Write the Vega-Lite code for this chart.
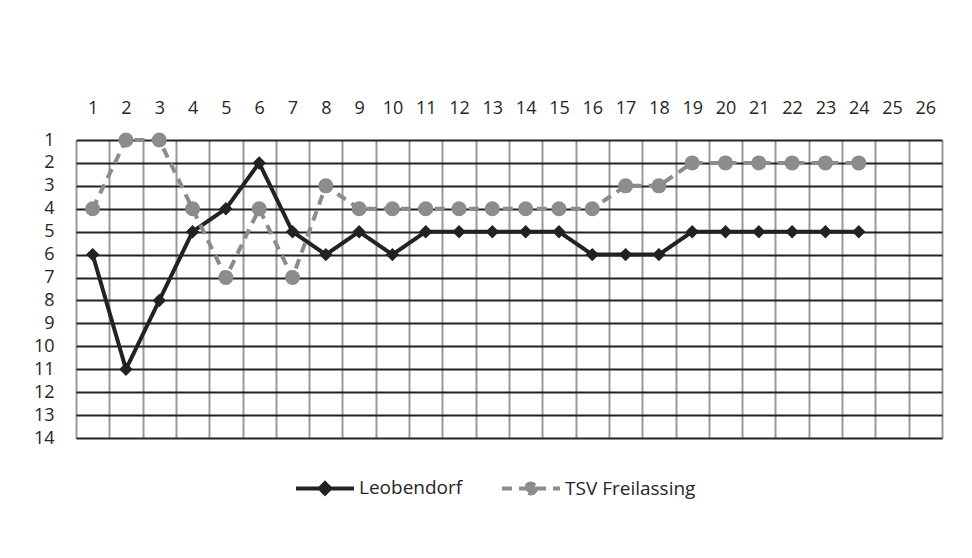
{
  "$schema": "https://vega.github.io/schema/vega-lite/v6.json",
  "width": 866,
  "height": 298,
  "autosize": {"type": "none"},
  "padding": {"left": 76, "top": 140, "right": 30, "bottom": 120},
  "background": "white",
  "config": {
    "view": {"stroke": null},
    "font": "Open Sans",
    "axis": {"labelFont": "Open Sans", "labelColor": "#262626", "labelFontSize": 18}
  },
  "data": {
    "values": [
      {"round": 1, "team": "Leobendorf", "rank": 6},
      {"round": 2, "team": "Leobendorf", "rank": 11},
      {"round": 3, "team": "Leobendorf", "rank": 8},
      {"round": 4, "team": "Leobendorf", "rank": 5},
      {"round": 5, "team": "Leobendorf", "rank": 4},
      {"round": 6, "team": "Leobendorf", "rank": 2},
      {"round": 7, "team": "Leobendorf", "rank": 5},
      {"round": 8, "team": "Leobendorf", "rank": 6},
      {"round": 9, "team": "Leobendorf", "rank": 5},
      {"round": 10, "team": "Leobendorf", "rank": 6},
      {"round": 11, "team": "Leobendorf", "rank": 5},
      {"round": 12, "team": "Leobendorf", "rank": 5},
      {"round": 13, "team": "Leobendorf", "rank": 5},
      {"round": 14, "team": "Leobendorf", "rank": 5},
      {"round": 15, "team": "Leobendorf", "rank": 5},
      {"round": 16, "team": "Leobendorf", "rank": 6},
      {"round": 17, "team": "Leobendorf", "rank": 6},
      {"round": 18, "team": "Leobendorf", "rank": 6},
      {"round": 19, "team": "Leobendorf", "rank": 5},
      {"round": 20, "team": "Leobendorf", "rank": 5},
      {"round": 21, "team": "Leobendorf", "rank": 5},
      {"round": 22, "team": "Leobendorf", "rank": 5},
      {"round": 23, "team": "Leobendorf", "rank": 5},
      {"round": 24, "team": "Leobendorf", "rank": 5},
      {"round": 1, "team": "TSV Freilassing", "rank": 4},
      {"round": 2, "team": "TSV Freilassing", "rank": 1},
      {"round": 3, "team": "TSV Freilassing", "rank": 1},
      {"round": 4, "team": "TSV Freilassing", "rank": 4},
      {"round": 5, "team": "TSV Freilassing", "rank": 7},
      {"round": 6, "team": "TSV Freilassing", "rank": 4},
      {"round": 7, "team": "TSV Freilassing", "rank": 7},
      {"round": 8, "team": "TSV Freilassing", "rank": 3},
      {"round": 9, "team": "TSV Freilassing", "rank": 4},
      {"round": 10, "team": "TSV Freilassing", "rank": 4},
      {"round": 11, "team": "TSV Freilassing", "rank": 4},
      {"round": 12, "team": "TSV Freilassing", "rank": 4},
      {"round": 13, "team": "TSV Freilassing", "rank": 4},
      {"round": 14, "team": "TSV Freilassing", "rank": 4},
      {"round": 15, "team": "TSV Freilassing", "rank": 4},
      {"round": 16, "team": "TSV Freilassing", "rank": 4},
      {"round": 17, "team": "TSV Freilassing", "rank": 3},
      {"round": 18, "team": "TSV Freilassing", "rank": 3},
      {"round": 19, "team": "TSV Freilassing", "rank": 2},
      {"round": 20, "team": "TSV Freilassing", "rank": 2},
      {"round": 21, "team": "TSV Freilassing", "rank": 2},
      {"round": 22, "team": "TSV Freilassing", "rank": 2},
      {"round": 23, "team": "TSV Freilassing", "rank": 2},
      {"round": 24, "team": "TSV Freilassing", "rank": 2}
    ]
  },
  "encoding": {
    "x": {
      "field": "round",
      "type": "ordinal",
      "title": null,
      "scale": {"type": "band", "domain": [1,2,3,4,5,6,7,8,9,10,11,12,13,14,15,16,17,18,19,20,21,22,23,24,25,26], "paddingInner": 0, "paddingOuter": 0},
      "axis": {
        "orient": "top",
        "labelAngle": 0,
        "ticks": false,
        "domain": false,
        "grid": true,
        "tickBand": "extent",
        "gridColor": "#999999",
        "gridWidth": 2,
        "labelPadding": 23,
        "zindex": 0
      }
    },
    "y": {
      "field": "rank",
      "type": "quantitative",
      "title": null,
      "scale": {"domain": [1, 14], "reverse": true, "nice": false, "zero": false},
      "axis": {
        "values": [1,2,3,4,5,6,7,8,9,10,11,12,13,14],
        "ticks": false,
        "domain": false,
        "grid": true,
        "gridColor": "#222222",
        "gridWidth": 2,
        "labelPadding": 22,
        "zindex": 0
      }
    }
  },
  "layer": [
    {
      "mark": {"type": "line", "strokeWidth": 4},
      "encoding": {
        "color": {
          "field": "team", "type": "nominal",
          "scale": {"domain": ["Leobendorf", "TSV Freilassing"], "range": ["#222222", "#8c8c8c"]},
          "legend": {
            "orient": "none", "legendX": 218, "legendY": 317, "direction": "horizontal", "title": null,
            "symbolSize": 3364, "symbolStrokeWidth": 4, "labelFontSize": 19, "labelFont": "Open Sans",
            "labelColor": "#262626", "labelOffset": 3, "columnPadding": 31,
            "encoding": {"symbols": {"fill": {"condition": {"test": "datum.value === 'Leobendorf'", "value": "#222222"}, "value": "#8c8c8c"}}}
          }
        },
        "strokeDash": {
          "field": "team", "type": "nominal",
          "scale": {"domain": ["Leobendorf", "TSV Freilassing"], "range": [[1, 0], [10, 7]]},
          "legend": {
            "orient": "none", "legendX": 218, "legendY": 317, "direction": "horizontal", "title": null,
            "symbolSize": 3364, "symbolStrokeWidth": 4, "labelFontSize": 19, "labelFont": "Open Sans",
            "labelColor": "#262626", "labelOffset": 3, "columnPadding": 31
          }
        },
        "shape": {
          "field": "team", "type": "nominal",
          "scale": {"domain": ["Leobendorf", "TSV Freilassing"], "range": ["M-1,0H1M0,-0.18L0.18,0L0,0.18L-0.18,0Z", "M-1,0H1M0.17,0A0.17,0.17 0 1,1 -0.17,0A0.17,0.17 0 1,1 0.17,0Z"]},
          "legend": {
            "orient": "none", "legendX": 218, "legendY": 317, "direction": "horizontal", "title": null,
            "symbolSize": 3364, "symbolStrokeWidth": 4, "labelFontSize": 19, "labelFont": "Open Sans",
            "labelColor": "#262626", "labelOffset": 3, "columnPadding": 31
          }
        }
      }
    },
    {
      "transform": [{"filter": "datum.team === 'Leobendorf'"}],
      "mark": {"type": "point", "filled": true, "shape": "diamond", "size": 180, "color": "#222222", "opacity": 1}
    },
    {
      "transform": [{"filter": "datum.team === 'TSV Freilassing'"}],
      "mark": {"type": "point", "filled": true, "shape": "circle", "size": 225, "color": "#8c8c8c", "opacity": 1}
    }
  ]
}
